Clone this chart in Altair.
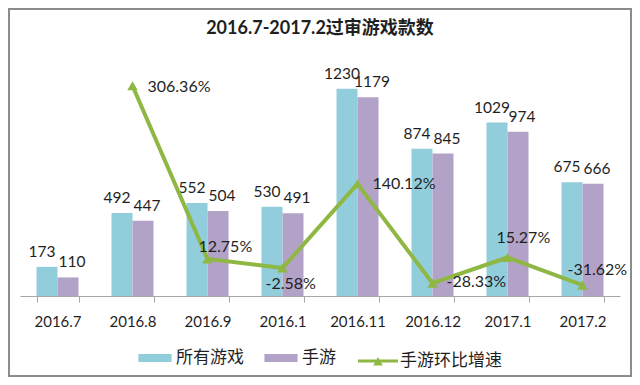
import altair as alt
import pandas as pd

# ---- data ----
MONTHS = ["2016.7", "2016.8", "2016.9", "2016.1", "2016.11", "2016.12", "2017.1", "2017.2"]
ALL_GAMES = [173, 492, 552, 530, 1230, 874, 1029, 675]
MOBILE = [110, 447, 504, 491, 1179, 845, 974, 666]
GROWTH = [None, 306.36, 12.75, -2.58, 140.12, -28.33, 15.27, -31.62]
SERIES = ["所有游戏", "手游"]
LINE_NAME = "手游环比增速"
TITLE = "2016.7-2017.2过审游戏款数"

# ---- styles ----
BLUE = "#92CDDC"
PURPLE = "#B3A2C7"
GREEN = "#8FB743"
TEXT = "#1f1f1f"
FONT = "Lato, Noto Sans CJK SC, sans-serif"
CJK = "Noto Sans CJK SC, Lato, sans-serif"
# label placement for each growth point: (align, dx, dy)
LABEL_STYLE = {
    "2016.8": ("left", 15, 1),
    "2016.9": ("left", -9, -12),
    "2016.1": ("left", -17, 16),
    "2016.11": ("left", 15, 0),
    "2016.12": ("left", 14, -1),
    "2017.1": ("left", -11, -19),
    "2017.2": ("left", -15, -15),
}
BAR_LABEL_DX = {SERIES[0]: -5, SERIES[1]: 4}

bars_df = pd.DataFrame({
    "month": MONTHS * 2,
    "series": [SERIES[0]] * len(MONTHS) + [SERIES[1]] * len(MONTHS),
    "value": ALL_GAMES + MOBILE,
})
line_df = pd.DataFrame({"month": MONTHS, "growth": GROWTH})
line_df = line_df.dropna().reset_index(drop=True)
line_df["series"] = LINE_NAME

x_enc = alt.X(
    "month:N", sort=MONTHS,
    scale=alt.Scale(paddingInner=0.44, paddingOuter=0.22),
    axis=alt.Axis(title=None, labelAngle=0, tickBand="extent", domainColor="#a6a6a6",
                  tickColor="#a6a6a6", tickSize=6, labelFont=FONT, labelFontSize=15,
                  labelColor=TEXT, labelPadding=12, domainWidth=1),
)
y_bar = alt.Y("value:Q", scale=alt.Scale(domain=[0, 1400]), axis=None)
y_line = alt.Y("growth:Q", scale=alt.Scale(domain=[-50, 350]), axis=None)
xoff = alt.XOffset("series:N", sort=SERIES, scale=alt.Scale(domain=SERIES, paddingInner=0))

bars = alt.Chart(bars_df).mark_bar().encode(
    x=x_enc, xOffset=xoff, y=y_bar,
    color=alt.Color("series:N", sort=SERIES,
                    scale=alt.Scale(domain=SERIES, range=[BLUE, PURPLE]),
                    legend=alt.Legend(title=None, orient="none", legendX=118, legendY=281,
                                      direction="horizontal",
                                      symbolType="M-1,-0.24H1V0.24H-1Z", symbolSize=1100,
                                      symbolStrokeWidth=0, labelFont=CJK, labelFontSize=17,
                                      labelColor=TEXT, columnPadding=20, labelOffset=4)),
)
bar_texts = []
for s, dx in BAR_LABEL_DX.items():
    bar_texts.append(
        alt.Chart(bars_df).transform_filter(alt.datum.series == s).mark_text(
            baseline="alphabetic", dy=-10, dx=dx, font=FONT, fontSize=15.5, color=TEXT
        ).encode(x=x_enc, xOffset=xoff, y=y_bar, text="value:Q")
    )

line = alt.Chart(line_df).mark_line(strokeWidth=4).encode(
    x=x_enc, y=y_line,
    stroke=alt.Stroke("series:N", scale=alt.Scale(domain=[LINE_NAME], range=[GREEN]),
                      legend=alt.Legend(title=None, orient="none", legendX=338, legendY=281,
                                        symbolType="M-1,-0.07H1V0.07H-1Z M-0.24,0.22L0,-0.2L0.24,0.22Z",
                                        symbolSize=1600, symbolFillColor=GREEN, symbolStrokeWidth=0,
                                        labelFont=CJK, labelFontSize=17, labelColor=TEXT,
                                        labelOffset=2)),
)
points = alt.Chart(line_df).mark_point(shape="triangle-up", filled=True, size=110,
                                       color=GREEN, opacity=1).encode(x=x_enc, y=y_line)

labels = []
for m, (al, dx, dy) in LABEL_STYLE.items():
    labels.append(
        alt.Chart(line_df).transform_filter(alt.datum.month == m)
        .transform_calculate(
            lbl="(datum.growth < 0 ? '-' : '') + format(abs(datum.growth), '.2f') + '%'")
        .mark_text(align=al, dx=dx, dy=dy, baseline="middle", font=FONT, fontSize=16, color=TEXT)
        .encode(x=x_enc, y=y_line, text="lbl:N")
    )

frame = alt.Chart(bars_df).mark_rect(fill=None, stroke="#8c8c8c", strokeWidth=2).encode(
    x=alt.value(-11), x2=alt.value(611), y=alt.value(-51), y2=alt.value(316)
)

chart = alt.layer(bars, *bar_texts, line, points, *labels, frame).resolve_scale(
    y="independent"
).properties(
    width=600, height=236,
    title=alt.TitleParams(TITLE, font=FONT, fontSize=18, fontWeight="bold", color=TEXT,
                          anchor="middle", offset=-30),
    autosize=alt.AutoSizeParams(type="none"),
    padding={"left": 12, "top": 52, "right": 12, "bottom": 81},
    background="white",
).configure_view(stroke=None)

chart.save("out.html", embed_options={"renderer": "svg", "actions": False})
